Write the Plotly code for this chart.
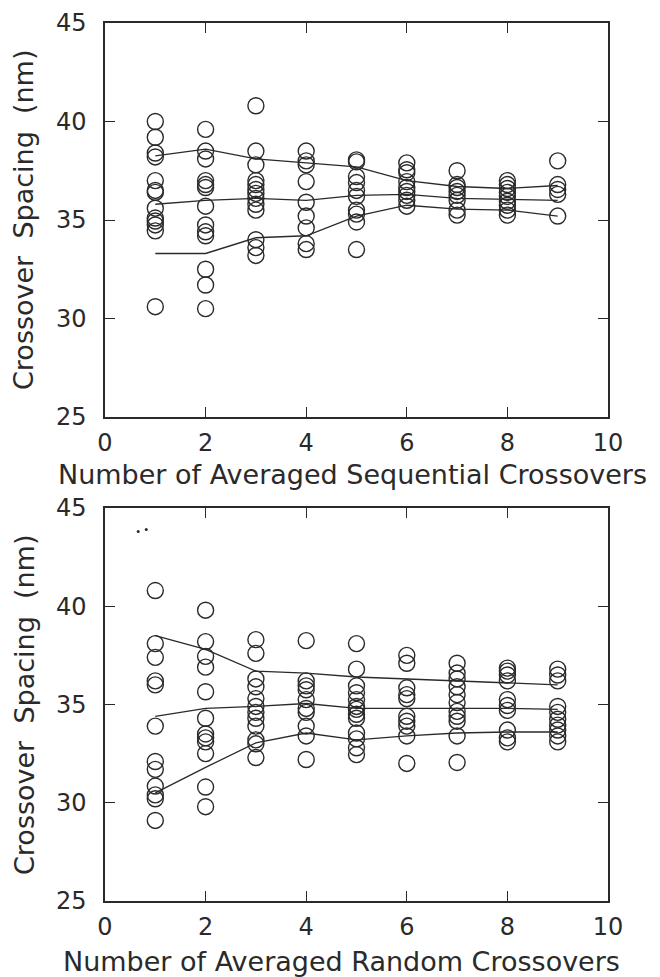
import plotly.graph_objects as go

# ---------------- data ----------------
x_positions = [1, 2, 3, 4, 5, 6, 7, 8, 9]

# Top panel: sequential crossovers (circles at each x)
seq_points = [
    [40.0, 39.2, 38.4, 38.2, 37.0, 36.5, 36.4, 35.6, 35.1, 34.95, 34.75, 34.45, 30.6],
    [39.6, 38.5, 38.1, 37.0, 36.8, 36.65, 35.7, 34.75, 34.4, 34.2, 32.5, 31.7, 30.5],
    [40.8, 38.5, 37.8, 37.0, 36.8, 36.55, 36.35, 36.1, 35.8, 35.5, 34.0, 33.6, 33.2],
    [38.5, 38.0, 37.8, 36.95, 35.9, 35.2, 34.6, 33.8, 33.5],
    [38.05, 37.95, 37.2, 36.9, 36.5, 36.2, 35.5, 35.3, 34.9, 33.5],
    [37.9, 37.55, 37.4, 36.95, 36.65, 36.45, 36.25, 36.0, 35.7],
    [37.5, 36.8, 36.65, 36.45, 36.25, 36.0, 35.5, 35.25],
    [37.0, 36.8, 36.6, 36.4, 36.2, 35.95, 35.75, 35.5, 35.25],
    [38.0, 36.8, 36.55, 36.3, 35.2],
]
seq_upper = [38.25, 38.6, 38.1, 37.9, 37.7, 37.0, 36.7, 36.6, 36.75]
seq_middle = [35.8, 36.0, 36.1, 36.0, 36.25, 36.3, 36.1, 36.05, 36.0]
seq_lower = [33.3, 33.3, 34.1, 34.2, 35.2, 35.75, 35.55, 35.5, 35.2]

# Bottom panel: random crossovers
rnd_points = [
    [40.8, 38.1, 37.4, 36.2, 36.0, 33.9, 32.1, 31.7, 30.85, 30.4, 30.2, 29.1],
    [39.8, 38.2, 37.45, 36.9, 35.65, 34.3, 33.5, 33.3, 33.1, 32.5, 30.8, 29.8],
    [38.3, 37.6, 36.3, 35.9, 35.3, 34.9, 34.6, 34.3, 33.9, 33.2, 33.0, 32.3],
    [38.25, 36.2, 35.95, 35.75, 35.25, 34.8, 34.6, 33.9, 33.4, 32.2],
    [38.1, 36.8, 35.95, 35.6, 35.25, 34.9, 34.75, 34.5, 34.3, 33.55, 33.25, 32.8, 32.45],
    [37.5, 37.1, 35.85, 35.5, 35.3, 34.4, 34.15, 33.9, 33.4, 32.0],
    [37.1, 36.6, 36.3, 35.9, 35.5, 35.1, 34.65, 34.4, 34.15, 33.4, 32.05],
    [36.85, 36.7, 36.5, 36.2, 35.25, 34.95, 34.7, 33.7, 33.3, 33.1],
    [36.8, 36.5, 36.2, 34.9, 34.6, 34.25, 33.95, 33.7, 33.4, 33.1],
]
rnd_upper = [38.5, 37.8, 36.7, 36.6, 36.4, 36.3, 36.2, 36.1, 36.0]
rnd_middle = [34.4, 34.8, 34.9, 35.05, 34.8, 34.8, 34.8, 34.8, 34.75]
rnd_lower = [30.5, 31.8, 33.05, 33.55, 33.2, 33.4, 33.55, 33.6, 33.6]

# stray specks in bottom panel
speck_x = [0.66, 0.82]
speck_y = [43.8, 43.9]

x_ticks = [0, 2, 4, 6, 8, 10]
y_ticks = [25, 30, 35, 40, 45]
x_title_top = "Number of Averaged Sequential Crossovers"
x_title_bottom = "Number of Averaged Random Crossovers"
y_title = "Crossover  Spacing  (nm)"

# ---------------- figure ----------------
INK = "#2a2a2a"
FONT = "DejaVu Sans"
fig = go.Figure()


def add_panel(points, upper, middle, lower, xa, ya):
    px, py = [], []
    for xv, vals in zip(x_positions, points):
        px += [xv] * len(vals)
        py += vals
    for series in (upper, middle, lower):
        fig.add_trace(go.Scatter(x=x_positions, y=series, mode="lines",
                                 line=dict(color=INK, width=1.3),
                                 xaxis=xa, yaxis=ya, showlegend=False))
    fig.add_trace(go.Scatter(x=px, y=py, mode="markers",
                             marker=dict(symbol="circle-open", size=16,
                                         color=INK, line=dict(width=1.4, color=INK)),
                             xaxis=xa, yaxis=ya, showlegend=False))


add_panel(seq_points, seq_upper, seq_middle, seq_lower, "x", "y")
add_panel(rnd_points, rnd_upper, rnd_middle, rnd_lower, "x2", "y2")
fig.add_trace(go.Scatter(x=speck_x, y=speck_y, mode="markers",
                         marker=dict(size=3, color=INK),
                         xaxis="x2", yaxis="y2", showlegend=False))

W, H = 660, 977
xdom = [105 / W, 608 / W]
top_dom = [1 - 417 / H, 1 - 23 / H]
bot_dom = [1 - 901 / H, 1 - 508 / H]

axis_common = dict(showline=True, linecolor=INK, linewidth=1.5, mirror="ticks",
                   ticks="inside", ticklen=10, tickwidth=1.4, tickcolor=INK,
                   showgrid=False, zeroline=False, automargin=False,
                   tickfont=dict(family=FONT, size=24, color=INK))

fig.update_layout(
    width=W, height=H, margin=dict(l=0, r=0, t=0, b=0, autoexpand=False),
    paper_bgcolor="white", plot_bgcolor="white", hovermode=False,
    xaxis=dict(domain=xdom, anchor="y", range=[0, 10], tickvals=x_ticks,
               ticklabelstandoff=3, **axis_common),
    yaxis=dict(domain=top_dom, anchor="x", range=[25, 45], tickvals=y_ticks,
               ticklabelstandoff=12, **axis_common),
    xaxis2=dict(domain=xdom, anchor="y2", range=[0, 10], tickvals=x_ticks,
                ticklabelstandoff=3, **axis_common),
    yaxis2=dict(domain=bot_dom, anchor="x2", range=[25, 45], tickvals=y_ticks,
                ticklabelstandoff=12, **axis_common),
)

title_font = dict(family=FONT, size=27, color=INK)
fig.add_annotation(text=x_title_top, xref="paper", yref="paper",
                   x=352 / W, y=1 - 474 / H, showarrow=False, font=title_font,
                   xanchor="center", yanchor="middle")
fig.add_annotation(text=x_title_bottom, xref="paper", yref="paper",
                   x=341 / W, y=1 - 961 / H, showarrow=False, font=title_font,
                   xanchor="center", yanchor="middle")
fig.add_annotation(text=y_title, xref="paper", yref="paper",
                   x=24 / W, y=1 - 220 / H, showarrow=False, font=title_font,
                   textangle=-90, xanchor="center", yanchor="middle")
fig.add_annotation(text=y_title, xref="paper", yref="paper",
                   x=24 / W, y=1 - 705 / H, showarrow=False, font=title_font,
                   textangle=-90, xanchor="center", yanchor="middle")

fig.write_html("out.html", config={"displayModeBar": False},
               post_script="document.body.style.margin='0px';")
